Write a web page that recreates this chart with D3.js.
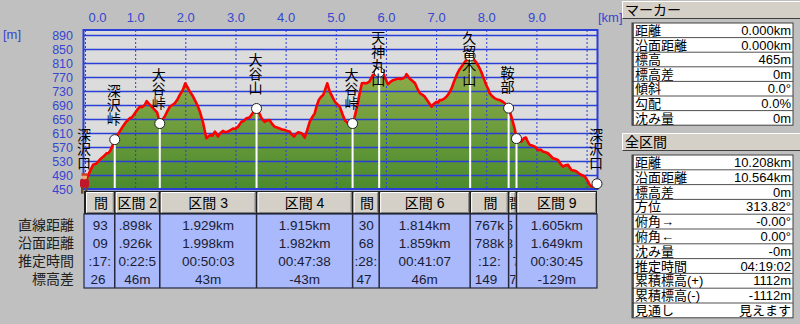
<!DOCTYPE html>
<html>
<head>
<meta charset="utf-8">
<script src="https://cdn.jsdelivr.net/npm/d3@7"></script>
<style>
  body { margin: 0; background: #c0c0c0; }
  svg { display: block; }
  text { font-family: "Liberation Sans", "Noto Sans CJK JP", sans-serif; }
  text.cjk { font-family: "Noto Sans CJK JP", sans-serif; }
</style>
</head>
<body>
<svg id="chart" width="800" height="324"></svg>
<script>
// ---- elevation profile: horizontal distance (km) and elevation (m) ----
const profileKm = [
  0.000, 0.050, 0.094, 0.160, 0.220, 0.260, 0.310, 0.360, 0.430, 0.470, 0.510, 0.593,
  0.640, 0.690, 0.750, 0.820, 0.890, 0.940, 0.990, 1.040, 1.090, 1.140, 1.190, 1.230,
  1.270, 1.310, 1.390, 1.440, 1.491, 1.540, 1.590, 1.640, 1.690, 1.740, 1.790, 1.840,
  1.890, 1.950, 2.000, 2.040, 2.090, 2.140, 2.190, 2.240, 2.290, 2.350, 2.420, 2.460,
  2.490, 2.540, 2.590, 2.620, 2.650, 2.700, 2.750, 2.800, 2.850, 2.900, 2.950, 3.000,
  3.050, 3.120, 3.170, 3.220, 3.280, 3.350, 3.420, 3.470, 3.520, 3.580, 3.630, 3.680,
  3.730, 3.780, 3.830, 3.880, 3.930, 3.980, 4.030, 4.080, 4.120, 4.170, 4.210, 4.250,
  4.320, 4.350, 4.380, 4.430, 4.480, 4.530, 4.580, 4.620, 4.660, 4.700, 4.750, 4.790,
  4.830, 4.880, 4.930, 4.980, 5.030, 5.080, 5.130, 5.180, 5.250, 5.335, 5.370, 5.400,
  5.440, 5.470, 5.520, 5.560, 5.610, 5.670, 5.740, 5.810, 5.865, 5.920, 5.960, 6.000,
  6.040, 6.090, 6.140, 6.190, 6.240, 6.290, 6.340, 6.380, 6.410, 6.440, 6.470, 6.520,
  6.580, 6.640, 6.680, 6.730, 6.770, 6.840, 6.910, 6.950, 6.970, 7.010, 7.040, 7.070,
  7.110, 7.170, 7.210, 7.260, 7.310, 7.360, 7.410, 7.460, 7.510, 7.570, 7.620, 7.679,
  7.740, 7.800, 7.850, 7.900, 7.950, 8.000, 8.040, 8.070, 8.120, 8.170, 8.220, 8.270,
  8.320, 8.370, 8.446, 8.490, 8.530, 8.570, 8.603, 8.650, 8.700, 8.750, 8.790, 8.830,
  8.870, 8.920, 8.970, 9.000, 9.030, 9.080, 9.130, 9.180, 9.230, 9.280, 9.330, 9.380,
  9.430, 9.480, 9.530, 9.580, 9.630, 9.670, 9.700, 9.750, 9.800, 9.850, 9.900, 9.940,
  9.970, 10.030, 10.060, 10.100, 10.140, 10.170, 10.208
];
const profileElev = [
  465, 485, 499, 519, 522, 528, 536, 542, 552, 553, 561, 591,
  603, 614, 628, 642, 652, 655, 666, 676, 685, 684, 690, 701,
  694, 688, 676, 668, 637, 648, 657, 672, 685, 690, 695, 705,
  719, 733, 752, 742, 728, 718, 704, 690, 671, 642, 595, 600,
  604, 602, 614, 608, 600, 610, 616, 612, 614, 618, 623, 622,
  628, 642, 645, 652, 654, 668, 680, 668, 652, 642, 646, 647,
  636, 628, 626, 623, 620, 619, 616, 614, 606, 600, 608, 612,
  609, 604, 597, 618, 642, 655, 666, 688, 704, 712, 719, 735,
  752, 728, 714, 700, 692, 685, 665, 647, 637, 637, 652, 671,
  695, 719, 752, 753, 752, 757, 776, 778, 784, 780, 776, 762,
  749, 756, 761, 763, 766, 764, 766, 770, 778, 772, 766, 760,
  752, 733, 723, 719, 714, 700, 685, 693, 695, 699, 697, 704,
  704, 709, 714, 724, 738, 758, 776, 790, 800, 812, 822, 830,
  822, 812, 800, 785, 766, 747, 735, 723, 715, 709, 706, 704,
  700, 695, 681, 662, 642, 620, 594, 590, 585, 595, 597, 584,
  576, 574, 571, 566, 561, 563, 557, 555, 552, 545, 538, 536,
  533, 522, 514, 518, 519, 510, 504, 503, 500, 494, 490, 488,
  485, 471, 462, 457, 457, 461, 465
];

// ---- waypoints and sections ----
const startElev = 465;
const waypointNames = ["深沢口", "深沢峠", "大谷峠", "大谷山", "大谷峠", "天神丸山", "久留木山", "鞍部", "", "深沢口"];
const sectionNames = ["区間 1", "区間 2", "区間 3", "区間 4", "区間 5", "区間 6", "区間 7", "区間 8", "区間 9"];
const sectionDirectKm = [0.593, 0.898, 1.929, 1.915, 0.530, 1.814, 0.767, 0.157, 1.605];
const sectionSurfaceKm = [0.609, 0.926, 1.998, 1.982, 0.568, 1.859, 0.788, 0.185, 1.649];
const sectionTime = ["00:17:40", "00:22:52", "00:50:03", "00:47:38", "00:28:52", "00:41:07", "00:12:27", "00:07:38", "00:30:45"];
const sectionRise = [126, 46, 43, -43, 147, 46, -149, -87, -129];
const tableRowLabels = ["直線距離", "沿面距離", "推定時間", "標高差"];

// ---- axes ----
const kmTicks = [0, 1, 2, 3, 4, 5, 6, 7, 8, 9, 10];
const kmTickLabels = ["0.0", "1.0", "2.0", "3.0", "4.0", "5.0", "6.0", "7.0", "8.0", "9.0", ""];
const elevTicks = [890, 850, 810, 770, 730, 690, 650, 610, 570, 530, 490, 450];

// ---- side panels ----
const markerLabels = ["距離", "沿面距離", "標高", "標高差", "傾斜", "勾配", "沈み量"];
const markerValues = ["0.000km", "0.000km", "465m", "0m", "0.0°", "0.0%", "0m"];
const totalLabels = ["距離", "沿面距離", "標高差", "方位", "俯角→", "俯角←", "沈み量", "推定時間", "累積標高(+)", "累積標高(-)", "見通し"];
const totalValues = ["10.208km", "10.564km", "0m", "313.82°", "-0.00°", "0.00°", "-0m", "04:19:02", "1112m", "-1112m", "見えます"];

// derived waypoint positions
const waypointKm = [0];
const waypointElev = [startElev];
sectionDirectKm.forEach((d, i) => {
  waypointKm.push(+(waypointKm[i] + d).toFixed(3));
  waypointElev.push(waypointElev[i] + sectionRise[i]);
});
const totalKm = waypointKm[waypointKm.length - 1];

const svg = d3.select("#chart");
const plotL = 84, plotR = 597, plotT = 30, plotB = 189;
const x = d3.scaleLinear().domain([0, totalKm]).range([85, 597]);
const y = d3.scaleLinear().domain([450, 890]).range([189, 35]);
const blue = "#2a3fd8";
const axisText = "#3646d0";

const defs = svg.append("defs");
const grad = defs.append("linearGradient").attr("id", "fillGrad")
  .attr("gradientUnits", "userSpaceOnUse").attr("x1", 0).attr("x2", 0)
  .attr("y1", y(890)).attr("y2", y(450));
grad.append("stop").attr("offset", "0%").attr("stop-color", "#a3b653");
grad.append("stop").attr("offset", "100%").attr("stop-color", "#4a8b2d");
defs.append("clipPath").attr("id", "plotClip").append("rect")
  .attr("x", plotL).attr("y", plotT).attr("width", plotR - plotL).attr("height", plotB - plotT + 1);

// plot background
svg.append("rect").attr("x", plotL).attr("y", plotT).attr("width", plotR - plotL).attr("height", plotB - plotT)
  .attr("fill", "#dcdcdc");

const profile = profileKm.map((k, i) => [k, profileElev[i]]);

// filled terrain
svg.append("path").datum(profile)
  .attr("clip-path", "url(#plotClip)")
  .attr("fill", "url(#fillGrad)")
  .attr("d", d3.area().x(d => x(d[0])).y0(y(450)).y1(d => y(d[1])));

// horizontal grid + elevation labels
const yAxis = svg.append("g").attr("transform", `translate(${plotL},0)`)
  .call(d3.axisLeft(y).tickValues(elevTicks).tickSize(-(plotR - plotL)).tickPadding(11));
yAxis.select(".domain").remove();
yAxis.selectAll("line").attr("stroke", blue).attr("stroke-width", 1.3);
yAxis.selectAll("text").attr("fill", axisText).attr("font-size", 12.5).attr("dy", "0.36em")
  .attr("font-family", "Liberation Sans");

// vertical dotted grid + km labels
const xAxis = svg.append("g").attr("transform", `translate(0,${plotT})`)
  .call(d3.axisTop(x).tickValues(kmTicks).tickFormat((d, i) => kmTickLabels[i])
    .tickSize(-(plotB - plotT)).tickPadding(8));
xAxis.select(".domain").remove();
xAxis.selectAll("line").attr("stroke", blue).attr("stroke-width", 1).attr("stroke-dasharray", "2,2");
xAxis.selectAll("text").attr("fill", axisText).attr("font-size", 13).attr("font-family", "Liberation Sans");
xAxis.selectAll(".tick").filter(d => d === 0).select("text").attr("dx", 12);

svg.append("text").attr("x", 598).attr("y", 22).attr("fill", axisText).attr("font-size", 13).text("[km]");
svg.append("text").attr("x", 3).attr("y", 39).attr("fill", axisText).attr("font-size", 13).text("[m]");

// waypoint drop lines
svg.append("g").selectAll("line").data(waypointKm.slice(1, -1)).join("line")
  .attr("x1", d => x(d)).attr("x2", d => x(d))
  .attr("y1", (d, i) => y(waypointElev[i + 1])).attr("y2", plotB)
  .attr("stroke", "#ffffff").attr("stroke-width", 2);

// profile line
svg.append("path").datum(profile)
  .attr("fill", "none").attr("stroke", "#ff0000").attr("stroke-width", 2.6)
  .attr("stroke-linejoin", "round")
  .attr("d", d3.line().x(d => x(d[0])).y(d => y(d[1])));

// frame
svg.append("rect").attr("x", plotL - 0.5).attr("y", plotT).attr("width", plotR - plotL + 1).attr("height", plotB - plotT)
  .attr("fill", "none").attr("stroke", blue).attr("stroke-width", 2);

// waypoint markers (the start point carries the hiker)
svg.append("g").selectAll("circle").data(waypointKm.slice(1)).join("circle")
  .attr("cx", d => x(d)).attr("cy", (d, i) => y(waypointElev[i + 1])).attr("r", 5)
  .attr("fill", "#ffffff").attr("stroke", "#222").attr("stroke-width", 1);

// hiker figure at the start
const hiker = svg.append("g").attr("transform", `translate(${x(0)},${y(waypointElev[0])})`);
hiker.append("rect").attr("x", -4).attr("y", 3).attr("width", 2.5).attr("height", 7).attr("fill", "#6b4a2a");
hiker.append("rect").attr("x", 0).attr("y", 3).attr("width", 2.5).attr("height", 7).attr("fill", "#6b4a2a");
hiker.append("rect").attr("x", -5).attr("y", -5).attr("width", 9).attr("height", 9).attr("rx", 2).attr("fill", "#c0182a");
hiker.append("circle").attr("cx", -0.5).attr("cy", -7).attr("r", 2.6).attr("fill", "#e8b078");
hiker.append("rect").attr("x", -3.5).attr("y", -10.5).attr("width", 6).attr("height", 2.5).attr("fill", "#d04020");

// vertical waypoint names (top-to-bottom writing)
const charStep = 14;
waypointNames.forEach((name, i) => {
  if (!name) return;
  const n = Array.from(name).length;
  const cx = x(waypointKm[i]) - 1;
  let top = y(waypointElev[i]) - 21 - (n - 1) * charStep - charStep / 2;
  top = Math.max(top, 31);
  svg.append("text").attr("class", "cjk")
    .attr("x", cx).attr("y", top)
    .style("writing-mode", "vertical-rl")
    .attr("text-anchor", "start")
    .attr("font-size", 14).attr("fill", "#000").text(name);
});

// Writes a string centred in a narrow column, keeping only the characters
// that sit inside the column (a wide value shows its middle part).
function cellText(g, str, x0, x1, yy, size, color, clipId) {
  const cx = (x0 + x1) / 2;
  const t = g.append("text").attr("x", cx).attr("y", yy).attr("dy", "0.36em")
    .attr("text-anchor", "middle").attr("font-size", size).attr("fill", color).text(str);
  const n = t.node().getNumberOfChars();
  let a = -1, b = -1;
  for (let k = 0; k < n; k++) {
    const s = t.node().getStartPositionOfChar(k).x;
    const e = t.node().getEndPositionOfChar(k).x;
    if (s >= x0 + 0.5 && e <= x1 - 0.5) { if (a < 0) a = k; b = k; }
  }
  if (a < 0) {
    // column narrower than one glyph: keep the middle glyph, clipped
    let best = 0, bd = Infinity;
    for (let k = 0; k < n; k++) {
      const m = (t.node().getStartPositionOfChar(k).x + t.node().getEndPositionOfChar(k).x) / 2;
      if (Math.abs(m - cx) < bd) { bd = Math.abs(m - cx); best = k; }
    }
    a = b = best;
    t.attr("clip-path", `url(#${clipId})`);
  }
  if (a === 0 && b === n - 1) return;
  const sx = t.node().getStartPositionOfChar(a).x;
  t.attr("text-anchor", "start").attr("x", sx).text(str.slice(a, b + 1));
}

// ---- section table ----
const tblTop = 191, headH = 23, bodyTop = 214, bodyBot = 288;
const rowY = [225, 243, 261, 279];
const cells = sectionNames.map((n, i) => ({
  i, name: n, x0: x(waypointKm[i]), x1: x(waypointKm[i + 1]),
  vals: [sectionDirectKm[i].toFixed(3) + "km", sectionSurfaceKm[i].toFixed(3) + "km", sectionTime[i], sectionRise[i] + "m"]
}));
cells.forEach(c => {
  defs.append("clipPath").attr("id", "cc" + c.i).append("rect")
    .attr("x", c.x0 + 1).attr("y", tblTop).attr("width", Math.max(1, c.x1 - c.x0 - 2)).attr("height", bodyBot - tblTop);
});
svg.append("rect").attr("x", plotL).attr("y", tblTop).attr("width", plotR - plotL).attr("height", headH)
  .attr("fill", "#202020");
svg.append("rect").attr("x", plotL).attr("y", bodyTop).attr("width", plotR - plotL).attr("height", bodyBot - bodyTop)
  .attr("fill", "#a9b9fb").attr("stroke", "#25283f").attr("stroke-width", 1.2);

const head = svg.append("g").selectAll("g").data(cells).join("g");
head.append("rect").attr("x", d => d.x0 + 1).attr("y", tblTop + 1).attr("width", d => Math.max(0, d.x1 - d.x0 - 2))
  .attr("height", headH - 2).attr("fill", "#d4d0c8");
head.append("path").attr("fill", "none").attr("stroke", "#ffffff").attr("stroke-width", 1)
  .attr("d", d => `M${d.x0 + 1.5},${tblTop + headH - 2}V${tblTop + 1.5}H${d.x1 - 2}`);
head.append("path").attr("fill", "none").attr("stroke", "#808080").attr("stroke-width", 1)
  .attr("d", d => `M${d.x0 + 2},${tblTop + headH - 1.5}H${d.x1 - 1.5}V${tblTop + 2}`);
head.each(function (d) {
  cellText(d3.select(this), d.name, d.x0 + 1, d.x1 - 1, tblTop + headH / 2, 14, "#000", "cc" + d.i);
});

svg.append("g").selectAll("line").data(waypointKm.slice(1, -1)).join("line")
  .attr("x1", d => x(d)).attr("x2", d => x(d)).attr("y1", bodyTop).attr("y2", bodyBot)
  .attr("stroke", "#25283f").attr("stroke-width", 1.5);

cells.forEach(c => {
  const g = svg.append("g");
  c.vals.forEach((v, j) => cellText(g, v, c.x0 + 1, c.x1 - 1, rowY[j], 13.5, "#1a1c34", "cc" + c.i));
});
svg.append("g").selectAll("text").data(tableRowLabels).join("text")
  .attr("x", 74).attr("y", (d, j) => rowY[j]).attr("dy", "0.36em").attr("text-anchor", "end")
  .attr("font-size", 14).attr("fill", "#202020").text(d => d);

// ---- side panels ----
function panelHeader(top, label) {
  svg.append("rect").attr("x", 622).attr("y", top).attr("width", 178).attr("height", 18).attr("fill", "#d4d0c8");
  svg.append("path").attr("fill", "none").attr("stroke", "#ffffff")
    .attr("d", `M622.5,${top + 17.5}V${top + 0.5}H800`);
  svg.append("path").attr("fill", "none").attr("stroke", "#404040")
    .attr("d", `M622.5,${top + 17.5}H800`);
  svg.append("text").attr("x", 625).attr("y", top + 9).attr("dy", "0.36em").attr("font-size", 14)
    .attr("fill", "#000").text(label);
}
function panelTable(top, rowH, labels, values) {
  const g = svg.append("g");
  g.append("rect").attr("x", 632).attr("y", top).attr("width", 161).attr("height", rowH * labels.length)
    .attr("fill", "#ffffff").attr("stroke", "#404040").attr("stroke-width", 1);
  g.selectAll("line").data(labels.slice(1)).join("line")
    .attr("x1", 632).attr("x2", 793).attr("y1", (d, i) => top + rowH * (i + 1)).attr("y2", (d, i) => top + rowH * (i + 1))
    .attr("stroke", "#505050").attr("stroke-width", 1);
  g.append("line").attr("x1", 633).attr("x2", 633).attr("y1", top).attr("y2", top + rowH * labels.length)
    .attr("stroke", "#303030").attr("stroke-width", 1.5);
  g.selectAll("text.l").data(labels).join("text").attr("class", "l")
    .attr("x", 635).attr("y", (d, i) => top + rowH * (i + 0.5)).attr("dy", "0.36em")
    .attr("font-size", 13).attr("fill", "#000").text(d => d);
  g.selectAll("text.v").data(values).join("text").attr("class", "v")
    .attr("x", 791).attr("y", (d, i) => top + rowH * (i + 0.5)).attr("dy", "0.36em").attr("text-anchor", "end")
    .attr("font-size", 13).attr("fill", "#000").text(d => d);
}
panelHeader(1, "マーカー");
panelTable(23, 14.6, markerLabels, markerValues);
panelHeader(133, "全区間");
panelTable(155, 14.8, totalLabels, totalValues);
</script>
</body>
</html>
